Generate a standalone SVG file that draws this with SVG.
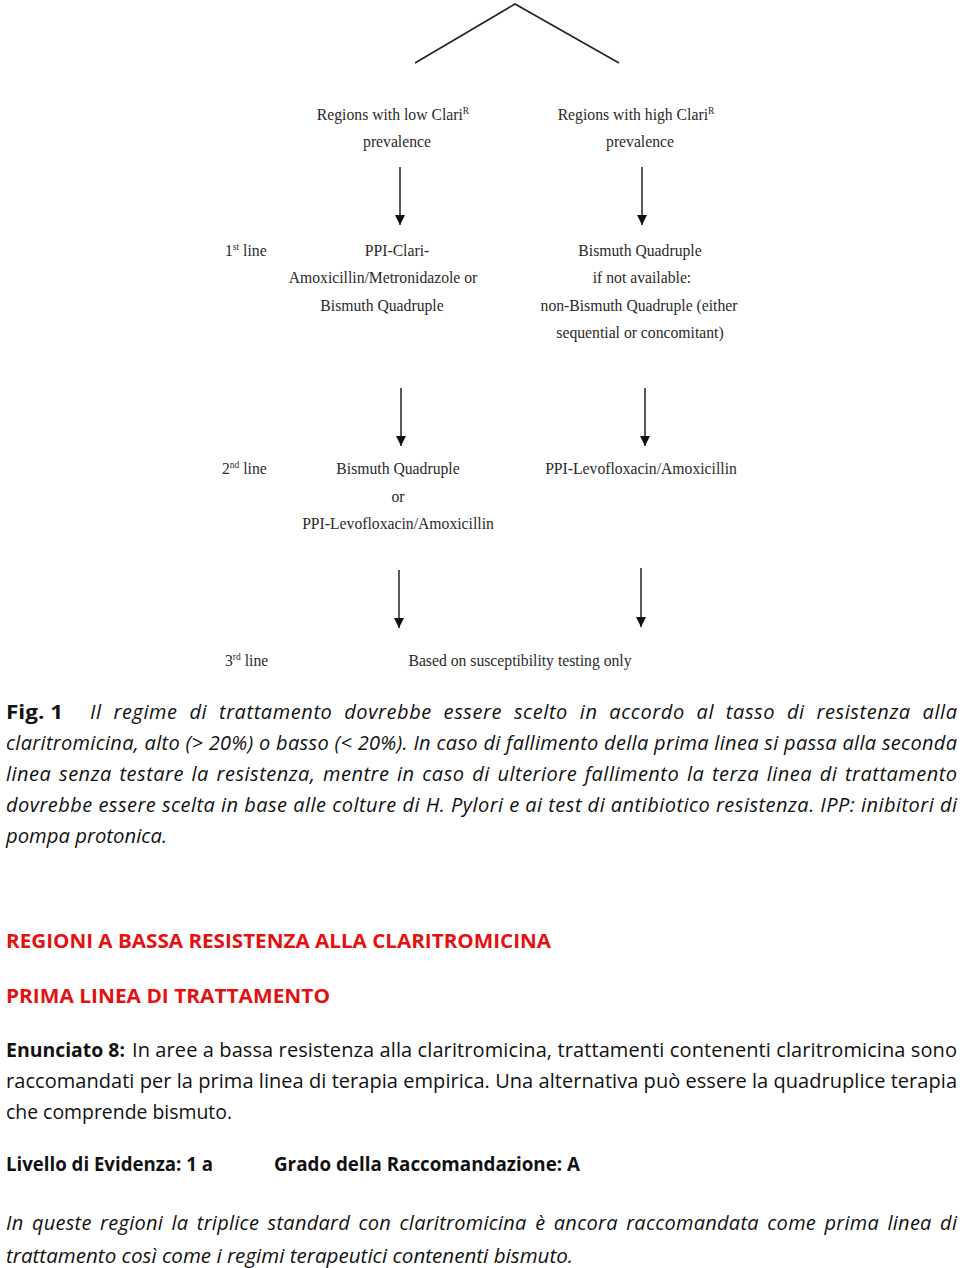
<svg xmlns="http://www.w3.org/2000/svg" width="960" height="1268" viewBox="0 0 960 1268">
<style>
.fc{font-family:"Liberation Serif","Times New Roman",serif;font-size:15.7px;fill:#2a2a2a}
.c{text-anchor:middle}
.sup{font-size:9.5px}
.conn{stroke:#222;stroke-width:1.6;fill:none}
.arr{stroke:#222;stroke-width:1.5;fill:none;marker-end:url(#ah)}
.body{font-family:"Open Sans","Liberation Sans",sans-serif;font-size:20px;fill:#111}
.it{font-style:italic}
.b{font-weight:bold}
.red{fill:#e41111;font-weight:bold}
</style>
<defs>
<marker id="ah" viewBox="0 0 10 10" refX="10" refY="5" markerWidth="10" markerHeight="10" markerUnits="userSpaceOnUse" orient="auto">
<path d="M0,0 L10,5 L0,10 z" fill="#111"/>
</marker>
</defs>
<rect width="960" height="1268" fill="#fff"/>
<g id="connectors">
<path class="conn" d="M415,63 L515,4 L619,63"/>
<line class="arr" x1="400" y1="167" x2="400" y2="225"/>
<line class="arr" x1="642" y1="167" x2="642" y2="225"/>
<line class="arr" x1="401" y1="388" x2="401" y2="446"/>
<line class="arr" x1="645" y1="388" x2="645" y2="446"/>
<line class="arr" x1="399" y1="570" x2="399" y2="628"/>
<line class="arr" x1="641" y1="568" x2="641" y2="627"/>
</g>
<g id="node-low-region" class="fc">
<text x="393" y="120" class="c">Regions with low Clari<tspan class="sup" dy="-6">R</tspan></text>
<text x="397" y="147" class="c">prevalence</text>
</g>
<g id="node-high-region" class="fc">
<text x="636" y="120" class="c">Regions with high Clari<tspan class="sup" dy="-6">R</tspan></text>
<text x="640" y="147" class="c">prevalence</text>
</g>
<g id="label-1st" class="fc">
<text x="225" y="256">1<tspan class="sup" dy="-6">st</tspan><tspan dy="6"> line</tspan></text>
</g>
<g id="node-low-1st" class="fc">
<text x="397" y="256" class="c">PPI-Clari-</text>
<text x="383" y="283" class="c">Amoxicillin/Metronidazole or</text>
<text x="382" y="311" class="c">Bismuth Quadruple</text>
</g>
<g id="node-high-1st" class="fc">
<text x="640" y="256" class="c">Bismuth Quadruple</text>
<text x="642" y="283" class="c">if not available:</text>
<text x="639" y="311" class="c">non-Bismuth Quadruple (either</text>
<text x="640" y="338" class="c">sequential or concomitant)</text>
</g>
<g id="label-2nd" class="fc">
<text x="222" y="474">2<tspan class="sup" dy="-6">nd</tspan><tspan dy="6"> line</tspan></text>
</g>
<g id="node-low-2nd" class="fc">
<text x="398" y="474" class="c">Bismuth Quadruple</text>
<text x="398" y="502" class="c">or</text>
<text x="398" y="529" class="c">PPI-Levofloxacin/Amoxicillin</text>
</g>
<g id="node-high-2nd" class="fc">
<text x="641" y="474" class="c">PPI-Levofloxacin/Amoxicillin</text>
</g>
<g id="label-3rd" class="fc">
<text x="225" y="666">3<tspan class="sup" dy="-6">rd</tspan><tspan dy="6"> line</tspan></text>
</g>
<g id="node-3rd" class="fc">
<text x="520" y="666" class="c">Based on susceptibility testing only</text>
</g>
<g id="caption" class="body">
<text x="6" y="719" class="b" textLength="57" lengthAdjust="spacingAndGlyphs">Fig.  1</text>
<text x="90" y="719" class="it" word-spacing="6" textLength="867" lengthAdjust="spacing">Il regime di trattamento dovrebbe essere scelto in accordo al tasso di resistenza alla</text>
<text x="6" y="750" class="it" textLength="951" lengthAdjust="spacing">claritromicina, alto (&gt; 20%)  o basso (&lt; 20%).  In caso di fallimento della prima linea si passa alla seconda</text>
<text x="6" y="781" class="it" word-spacing="2" textLength="951" lengthAdjust="spacing">linea senza testare la resistenza, mentre in caso di ulteriore fallimento la terza linea di trattamento</text>
<text x="6" y="812" class="it" textLength="951" lengthAdjust="spacing">dovrebbe essere scelta in base alle colture di H. Pylori e ai test di antibiotico resistenza. IPP: inibitori di</text>
<text x="6" y="843" class="it" textLength="161" lengthAdjust="spacingAndGlyphs">pompa protonica.</text>
</g>
<g id="headings" class="body">
<text x="6" y="948" class="red" textLength="545" lengthAdjust="spacingAndGlyphs">REGIONI A BASSA RESISTENZA ALLA CLARITROMICINA</text>
<text x="6" y="1003" class="red" textLength="324" lengthAdjust="spacingAndGlyphs">PRIMA LINEA DI TRATTAMENTO</text>
</g>
<g id="statement" class="body">
<text x="6" y="1057" class="b" textLength="119" lengthAdjust="spacingAndGlyphs">Enunciato 8:</text>
<text x="132" y="1057" textLength="825" lengthAdjust="spacing">In aree a bassa resistenza alla claritromicina, trattamenti contenenti claritromicina sono</text>
<text x="6" y="1088" textLength="951" lengthAdjust="spacing">raccomandati per la prima linea di terapia empirica. Una alternativa può essere la quadruplice terapia</text>
<text x="6" y="1119" textLength="226" lengthAdjust="spacingAndGlyphs">che comprende bismuto.</text>
</g>
<g id="evidence" class="body">
<text x="6" y="1171" class="b" textLength="207" lengthAdjust="spacingAndGlyphs">Livello di Evidenza: 1 a</text>
<text x="274" y="1171" class="b" textLength="306" lengthAdjust="spacingAndGlyphs">Grado della Raccomandazione: A</text>
</g>
<g id="note" class="body">
<text x="6" y="1230" class="it" word-spacing="3" textLength="951" lengthAdjust="spacing">In queste regioni la triplice standard con claritromicina è ancora raccomandata come prima linea di</text>
<text x="6" y="1263" class="it" textLength="567" lengthAdjust="spacingAndGlyphs">trattamento così come i regimi terapeutici contenenti bismuto.</text>
</g>
</svg>
